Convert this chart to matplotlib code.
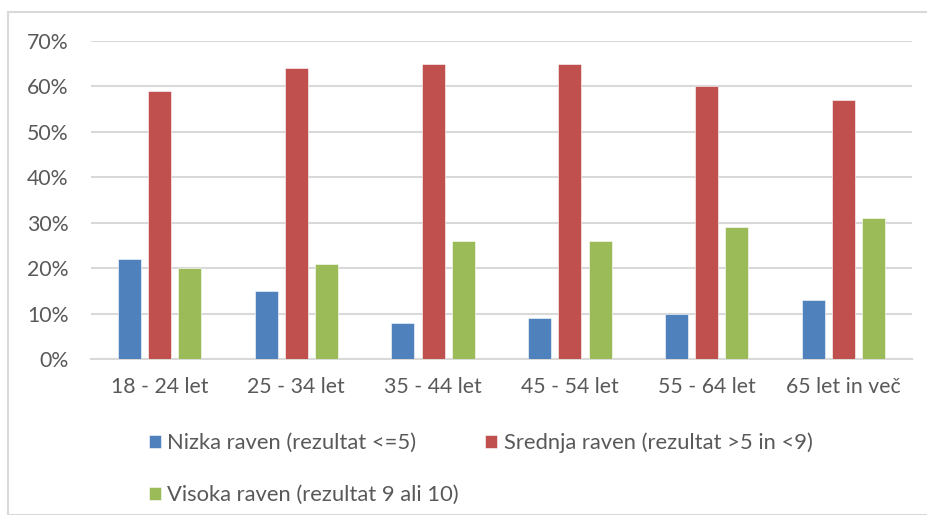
import numpy as np
import matplotlib.pyplot as plt
from matplotlib.patches import Rectangle
from matplotlib.ticker import PercentFormatter

plt.rcParams['font.family'] = ['Lato', 'DejaVu Sans']

categories = ['18 - 24 let', '25 - 34 let', '35 - 44 let', '45 - 54 let', '55 - 64 let', '65 let in več']
nizka = [22, 15, 8, 9, 10, 13]
srednja = [59, 64, 65, 65, 60, 57]
visoka = [20, 21, 26, 26, 29, 31]
series_names = ['Nizka raven (rezultat <=5)', 'Srednja raven (rezultat >5 in <9)', 'Visoka raven (rezultat 9 ali 10)']
colors = ['#4F81BD', '#C0504D', '#9BBB59']
text_color = '#595959'
grid_color = '#D9D9D9'

fig = plt.figure(figsize=(9.27, 5.15), dpi=100)
# outer chart border (only top and left visible in the crop)
fig.patches.append(Rectangle((8 / 927, 0), 1.2, (515 - 12) / 515, transform=fig.transFigure,
                             fill=False, edgecolor=grid_color, linewidth=1.5))

ax = fig.add_axes([91 / 927, 1 - 359 / 515, (912 - 91) / 927, (359 - 41) / 515])

x = np.arange(len(categories))
width = 0.168
step = 0.22
bars = []
for i, (vals, col) in enumerate(zip([nizka, srednja, visoka], colors)):
    b = ax.bar(x + (i - 1) * step, vals, width, color=col, edgecolor='white', linewidth=0.4,
               label=series_names[i], zorder=3)
    bars.append(b)

ax.set_xlim(-0.5, len(categories) - 0.5)
ax.set_ylim(0, 70)
ax.set_yticks(range(0, 71, 10))
ax.yaxis.set_major_formatter(PercentFormatter(decimals=0))
ax.set_xticks(x)
ax.set_xticklabels(categories)
ax.grid(axis='y', color=grid_color, linewidth=1.5, zorder=0)
ax.tick_params(axis='both', length=0, labelsize=15.3, colors=text_color)
ax.tick_params(axis='y', pad=16)
ax.tick_params(axis='x', pad=13)
for s in ['top', 'right', 'left']:
    ax.spines[s].set_visible(False)
ax.spines['bottom'].set_color(grid_color)
ax.spines['bottom'].set_linewidth(1.5)

handles = [bars[0], bars[2], bars[1]]
labels = [series_names[0], series_names[2], series_names[1]]
fig.legend(handles, labels, loc='upper left', bbox_to_anchor=(129 / 927, 1 - 413 / 515),
           ncol=2, frameon=False, fontsize=15.8, labelcolor=text_color,
           handlelength=0.55, handleheight=0.55, handletextpad=0.3,
           labelspacing=1.45, columnspacing=1.2)

fig.savefig('out.png', dpi=100)
